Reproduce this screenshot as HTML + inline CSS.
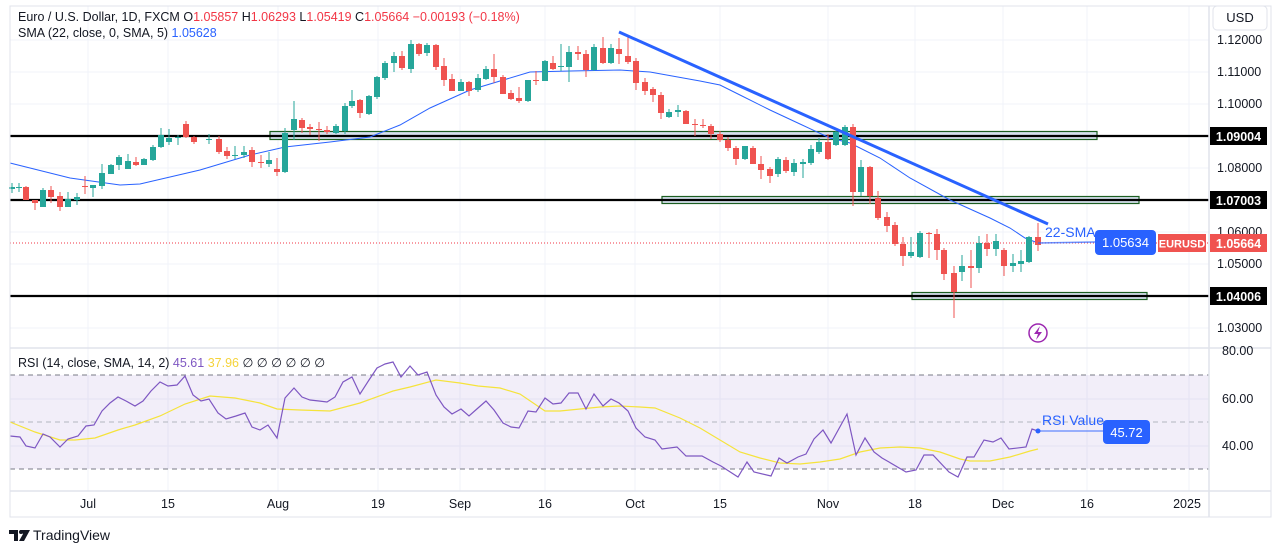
<!DOCTYPE html>
<html><head><meta charset="utf-8"><style>
html,body{margin:0;padding:0;background:#fff;width:1281px;height:553px;overflow:hidden}
svg{position:absolute;left:0;top:0}
text{font-family:"Liberation Sans",sans-serif}
</style></head><body>
<svg id="s" width="1281" height="553" viewBox="0 0 1281 553">
<rect x="0" y="0" width="1281" height="553" fill="#fff"/>
<g id="grid" stroke="#f0f3fa" stroke-width="1"></g>
<rect x="10" y="375" width="1199" height="94" fill="#7e57c2" fill-opacity="0.1"/>
<line x1="10" y1="375" x2="1209" y2="375" stroke="#787b86" stroke-dasharray="5,4"/>
<line x1="10" y1="469" x2="1209" y2="469" stroke="#787b86" stroke-dasharray="5,4"/>
<line x1="10" y1="422" x2="1209" y2="422" stroke="#b2b5be" stroke-dasharray="5,4"/>
<rect x="270" y="131.5" width="827" height="8" fill="#d6e0ee" stroke="#1b5e20" stroke-width="1.2"/>
<rect x="662" y="196.5" width="477" height="7" fill="#d6e0ee" stroke="#1b5e20" stroke-width="1.2"/>
<rect x="912" y="292.5" width="235" height="7" fill="#d6e0ee" stroke="#1b5e20" stroke-width="1.2"/>
<line x1="10" y1="136" x2="1209" y2="136" stroke="#000" stroke-width="2.2"/>
<line x1="10" y1="200" x2="1209" y2="200" stroke="#000" stroke-width="2.2"/>
<line x1="10" y1="296" x2="1209" y2="296" stroke="#000" stroke-width="2.2"/>
<line x1="10" y1="243" x2="1209" y2="243" stroke="#f23645" stroke-width="1" stroke-dasharray="1,2"/>
<polyline id="sma" fill="none" stroke="#2962ff" stroke-width="1"/>
<g id="candles"></g>
<line x1="619" y1="32" x2="1048" y2="224" stroke="#2962ff" stroke-width="3"/>
<line x1="1038" y1="243" x2="1095" y2="242" stroke="#2962ff" stroke-width="1.5" stroke-opacity="0.7"/>
<text x="1045" y="237" font-size="14" fill="#2962ff">22-SMA</text>
<rect x="1095" y="230" width="61" height="25" rx="4" fill="#2962ff"/>
<text x="1125.5" y="247" font-size="13" fill="#fff" text-anchor="middle">1.05634</text>
<polyline id="ysma" fill="none" stroke="#f5e33b" stroke-width="1.2"/>
<polyline id="rsi" fill="none" stroke="#7e57c2" stroke-width="1.2"/>
<circle cx="1038" cy="431" r="2.5" fill="#2962ff"/>
<line x1="1038" y1="431" x2="1103" y2="431" stroke="#2962ff" stroke-width="1.5" stroke-opacity="0.6"/>
<text x="1042" y="425" font-size="14" fill="#2962ff">RSI Value</text>
<rect x="1103" y="420" width="47" height="24" rx="4" fill="#2962ff"/>
<text x="1126.5" y="437" font-size="13" fill="#fff" text-anchor="middle">45.72</text>
<circle cx="1038" cy="333" r="9" fill="none" stroke="#9c27b0" stroke-width="1.5"/>
<path d="M1040 326 L1034 334 L1038 334 L1036 340 L1042 332 L1038 332 Z" fill="#9c27b0"/>
<rect x="10" y="6" width="1261" height="511" fill="none" stroke="#e0e3eb"/>
<line x1="10" y1="348" x2="1271" y2="348" stroke="#e0e3eb" stroke-width="1.5"/>
<line x1="10" y1="491" x2="1271" y2="491" stroke="#e0e3eb" stroke-width="1.5"/>
<line x1="1209" y1="6" x2="1209" y2="517" stroke="#e0e3eb" stroke-width="1.5"/>
<text x="18" y="21" font-size="12.5" fill="#131722">Euro / U.S. Dollar, 1D, FXCM  <tspan>O</tspan><tspan fill="#f23645">1.05857</tspan>  H<tspan fill="#f23645">1.06293</tspan>  L<tspan fill="#f23645">1.05419</tspan>  C<tspan fill="#f23645">1.05664  −0.00193 (−0.18%)</tspan></text>
<text x="18" y="37" font-size="12.5" fill="#131722">SMA (22, close, 0, SMA, 5)  <tspan fill="#2962ff">1.05628</tspan></text>
<text x="18" y="367" font-size="12.5" fill="#131722">RSI (14, close, SMA, 14, 2)  <tspan fill="#7e57c2">45.61</tspan>  <tspan fill="#f5d33b">37.96</tspan>  ∅ ∅ ∅ ∅ ∅ ∅</text>
<rect x="1213" y="6" width="54" height="24" rx="4" fill="#fff" stroke="#e0e3eb"/>
<text x="1240" y="22" font-size="13" fill="#131722" text-anchor="middle">USD</text>
<g font-size="12.5" fill="#131722">
<text x="1217" y="44">1.12000</text><text x="1217" y="76">1.11000</text><text x="1217" y="108">1.10000</text>
<text x="1217" y="172">1.08000</text><text x="1217" y="236">1.06000</text><text x="1217" y="268">1.05000</text>
<text x="1217" y="332">1.03000</text>
<text x="1222" y="355">80.00</text><text x="1222" y="403">60.00</text><text x="1222" y="450">40.00</text>
</g>
<rect x="1210" y="127" width="57" height="18" fill="#000"/><text x="1238.5" y="141" font-size="12.5" font-weight="bold" fill="#fff" text-anchor="middle">1.09004</text>
<rect x="1210" y="191" width="57" height="18" fill="#000"/><text x="1238.5" y="205" font-size="12.5" font-weight="bold" fill="#fff" text-anchor="middle">1.07003</text>
<rect x="1210" y="287" width="57" height="18" fill="#000"/><text x="1238.5" y="301" font-size="12.5" font-weight="bold" fill="#fff" text-anchor="middle">1.04006</text>
<rect x="1158" y="234" width="48" height="18" fill="#f05350"/><text x="1182" y="247.5" font-size="11" font-weight="bold" fill="#fff" text-anchor="middle">EURUSD</text>
<rect x="1210" y="234" width="57" height="18" fill="#f05350"/><text x="1238.5" y="248" font-size="12.5" font-weight="bold" fill="#fff" text-anchor="middle">1.05664</text>
<g font-size="12.5" fill="#131722" text-anchor="middle">
<text x="88" y="508">Jul</text><text x="168" y="508">15</text><text x="278" y="508">Aug</text><text x="378" y="508">19</text>
<text x="460" y="508">Sep</text><text x="545" y="508">16</text><text x="635" y="508">Oct</text><text x="720" y="508">15</text>
<text x="828" y="508">Nov</text><text x="915" y="508">18</text><text x="1003" y="508">Dec</text><text x="1087" y="508">16</text>
<text x="1187" y="508">2025</text>
</g>
<path d="M9 530 H18 V541 H14 V534 H9 Z M20 530 H30 L24 541 H19 L23 534 Z" fill="#131722"/>
<circle cx="21" cy="532" r="2" fill="#131722"/>
<text x="33" y="540" font-size="14" fill="#131722">TradingView</text>
</svg>
<script>
var NS="http://www.w3.org/2000/svg";
function el(p,t,a){var e=document.createElementNS(NS,t);for(var k in a)e.setAttribute(k,a[k]);p.appendChild(e);return e;}
var g=document.getElementById('grid');
[88,168,278,378,460,545,635,720,828,915,1003,1087,1189].forEach(function(x){el(g,'line',{x1:x,y1:6,x2:x,y2:491});});
[40,72,104,168,232,264,328,399,446].forEach(function(y){el(g,'line',{x1:10,y1:y,x2:1209,y2:y});});
var C=[[12,'g',187,189,183,193],[19,'g',187,188,183,192],[26,'r',187,200,186,200],[35,'r',200,203,200,210],[43,'g',190,207,188,207],[51,'r',190,197,186,203],[60,'r',196,207,192,211],[68,'g',199,207,192,207],[77,'g',197,200,193,205],[85,'r',186,187,176,194],[93,'g',185,188,185,197],[102,'g',173,186,164,189],[111,'g',165,174,164,174],[119,'g',157,165,155,170],[128,'g',161,169,154,169],[136,'r',162,165,157,166],[144,'g',159,165,158,165],[153,'g',147,160,145,161],[161,'g',135,147,128,148],[169,'g',138,142,129,145],[178,'g',137,138,135,145],[186,'r',124,137,121,138],[194,'r',137,142,136,144],[209,'g',139,140,134,144],[219,'r',139,152,136,154],[227,'r',151,156,147,159],[235,'g',155,156,146,159],[244,'g',152,155,146,158],[252,'r',150,162,147,167],[261,'r',162,163,155,168],[269,'g',160,164,152,167],[277,'r',169,172,158,176],[285,'g',133,172,128,173],[294,'g',119,130,101,140],[302,'r',120,128,118,133],[310,'r',127,129,124,135],[319,'r',129,130,122,141],[327,'r',130,132,126,134],[336,'g',126,133,124,134],[345,'g',106,131,103,134],[352,'g',101,106,90,108],[360,'r',100,113,99,118],[369,'g',96,114,95,115],[377,'g',77,97,76,99],[385,'g',63,78,61,80],[394,'g',56,63,52,72],[402,'r',56,68,51,70],[411,'g',44,69,40,73],[419,'r',44,54,43,56],[427,'g',45,53,43,56],[436,'r',45,67,44,70],[444,'r',66,80,58,86],[452,'r',79,91,74,91],[461,'g',82,91,79,91],[469,'r',82,91,81,96],[478,'g',78,90,74,92],[486,'g',69,79,66,80],[494,'r',69,77,54,83],[503,'r',77,94,75,94],[511,'r',93,99,90,100],[519,'r',98,101,87,103],[528,'g',80,101,80,102],[536,'r',80,81,71,85],[545,'g',61,81,60,81],[553,'r',63,69,56,70],[561,'g',66,67,44,71],[569,'g',52,67,46,82],[578,'r',52,54,46,60],[586,'r',54,70,50,77],[594,'g',47,70,44,71],[603,'r',48,63,37,64],[611,'g',48,63,44,64],[619,'r',49,54,38,64],[628,'r',56,62,37,64],[636,'r',61,83,58,90],[645,'r',82,91,78,95],[653,'r',89,95,87,102],[661,'r',95,113,92,119],[669,'g',112,117,109,118],[678,'g',110,112,105,117],[686,'r',111,124,110,124],[695,'r',124,125,119,136],[703,'r',125,126,119,128],[711,'r',126,134,124,139],[720,'r',134,140,131,142],[728,'r',140,148,137,151],[736,'r',148,159,146,165],[745,'g',146,159,146,160],[753,'r',148,164,146,164],[761,'r',164,170,156,179],[770,'r',169,176,167,183],[778,'g',159,174,157,177],[786,'r',160,171,157,173],[794,'g',163,172,159,176],[803,'g',162,164,159,178],[811,'g',149,163,145,165],[819,'g',142,152,138,154],[828,'r',142,159,134,160],[836,'g',132,145,131,146],[845,'g',127,145,125,146],[853,'r',127,192,124,206],[861,'g',167,192,160,196],[870,'r',167,196,166,204],[878,'r',198,218,191,220],[887,'r',217,226,212,232],[895,'r',225,244,222,246],[903,'r',244,256,237,266],[911,'g',252,256,237,258],[920,'g',233,257,231,258],[929,'r',233,234,232,258],[937,'r',234,250,229,260],[944,'r',250,274,248,280],[954,'r',273,292,266,318],[962,'g',266,272,255,281],[971,'r',266,268,250,288],[979,'g',243,268,236,273],[987,'r',243,249,234,256],[996,'g',241,249,234,256],[1004,'r',250,266,248,276],[1013,'g',263,266,254,272],[1021,'g',261,264,250,272],[1029,'g',237,262,236,263],[1038,'r',237,245,223,251]];
var cg=document.getElementById('candles');
C.forEach(function(c){var col=c[1]=='g'?'#26a69a':'#ef5350';
el(cg,'line',{x1:c[0],y1:c[4],x2:c[0],y2:c[5],stroke:col,'stroke-width':1});
el(cg,'rect',{x:c[0]-3,y:c[2],width:6,height:Math.max(1,c[3]-c[2]),fill:col});});
function pts(id,a){document.getElementById(id).setAttribute('points',a.map(function(p){return p.join(',')}).join(' '));}
pts('sma',[[10,163],[70,178],[120,185],[140,184],[200,170],[250,155],[285,147],[330,142],[370,137],[400,125],[430,108],[470,90],[530,72],[570,71],[620,70],[650,72],[700,81],[720,85],[740,95],[770,110],[800,124],[830,138],[850,143],[880,158],[910,178],[950,200],[990,218],[1010,228],[1025,238],[1038,243]]);
pts('rsi',[[10,436],[20,437],[26,446],[35,448],[43,434],[50,437],[60,447],[68,439],[78,436],[86,426],[94,425],[102,411],[110,403],[118,397],[126,401],[135,406],[143,401],[151,391],[160,382],[168,386],[177,385],[185,376],[193,395],[201,401],[209,399],[218,413],[226,419],[236,416],[245,413],[252,427],[260,430],[268,425],[277,438],[285,398],[294,388],[302,397],[310,400],[319,401],[327,402],[335,397],[343,382],[352,377],[360,394],[369,380],[377,368],[385,364],[393,362],[401,377],[410,366],[418,375],[427,372],[436,395],[444,407],[452,414],[461,409],[469,416],[478,408],[486,401],[494,410],[503,423],[511,427],[519,428],[528,411],[536,412],[545,398],[553,404],[561,403],[569,393],[578,393],[586,409],[594,394],[603,406],[611,399],[619,403],[628,411],[636,428],[645,437],[655,440],[662,449],[677,447],[686,456],[702,456],[713,462],[721,466],[738,477],[747,462],[754,472],[771,476],[779,458],[787,463],[798,457],[806,454],[814,439],[823,430],[831,443],[847,414],[856,455],[865,438],[874,452],[882,458],[889,462],[906,472],[916,470],[924,455],[933,455],[949,472],[958,477],[967,457],[974,457],[984,440],[993,442],[1001,438],[1009,449],[1026,447],[1032,429],[1038,431]]);
pts('ysma',[[10,422],[35,432],[60,440],[75,440],[95,438],[118,430],[135,425],[160,416],[185,404],[210,396],[235,398],[260,403],[277,409],[300,410],[330,411],[360,403],[393,391],[410,387],[436,380],[460,383],[478,386],[500,388],[520,394],[545,411],[560,411],[580,409],[600,407],[620,406],[640,407],[655,408],[680,418],[700,428],[720,440],[740,452],[760,458],[780,463],[800,464],[820,462],[840,459],[860,452],[880,448],[900,447],[920,448],[940,452],[960,459],[970,461],[990,461],[1010,457],[1030,451],[1038,449]]);
</script>
</body></html>
